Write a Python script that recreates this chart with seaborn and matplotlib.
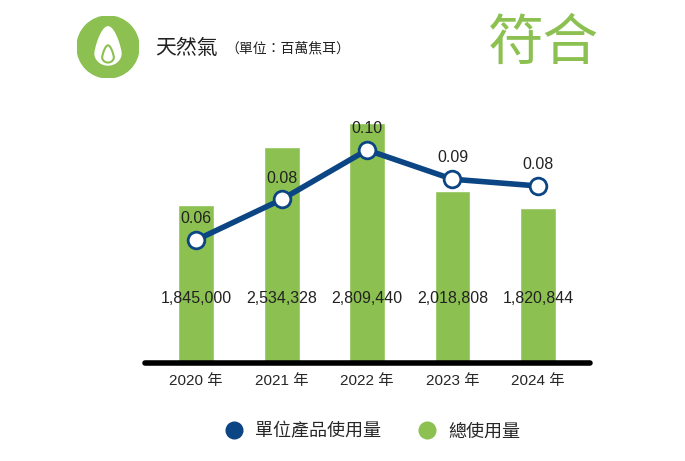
import matplotlib
matplotlib.use("Agg")
import matplotlib.pyplot as plt
import seaborn as sns
import pandas as pd
import numpy as np
from matplotlib.patches import Circle, Polygon
from matplotlib.lines import Line2D

years = ["2020 年", "2021 年", "2022 年", "2023 年", "2024 年"]
total_use = [1845000, 2534328, 2809440, 2018808, 1820844]
unit_use = [0.060, 0.078, 0.100, 0.087, 0.084]
unit_labels = ["0.06", "0.08", "0.10", "0.09", "0.08"]

sns.set_theme(style="white")
plt.rcParams['font.family'] = ['Liberation Sans', 'Noto Sans CJK TC', 'DejaVu Sans']

GREEN = "#8cc152"
BLUE = "#0c4584"

fig = plt.figure(figsize=(6.85, 4.61), dpi=100)
ax = fig.add_axes([145/685, 1-363/461, 445/685, 263/461])
df = pd.DataFrame({"year": years, "total": total_use})
sns.barplot(data=df, x="year", y="total", color=GREEN, width=0.42, saturation=1, ax=ax)
ax.set_xlim(-0.6, 4.61)
ax.set_ylim(0, 3080000)
for s in ["top", "right", "left"]:
    ax.spines[s].set_visible(False)
ax.spines["bottom"].set_color("black")
ax.spines["bottom"].set_linewidth(4)
ax.spines["bottom"].set_capstyle("round")
ax.set_yticks([])
ax.set_xlabel(""); ax.set_ylabel("")
ax.tick_params(axis="x", length=0, pad=8, labelsize=11)
for i, v in enumerate(total_use):
    ax.text(i, 760000, f"{v:,}", ha="center", va="center", fontsize=11.5, color="#222")

ax2 = ax.twinx()
ax2.set_ylim(0.00533, 0.1222)
ax2.plot(range(5), unit_use, color=BLUE, lw=4, marker="o", ms=12,
         mfc="white", mec=BLUE, mew=2, zorder=5)
ax2.set_axis_off()
for i, (v, l) in enumerate(zip(unit_use, unit_labels)):
    ax2.text(i, v + 0.0095, l, ha="center", va="center", fontsize=11.5, color="#222")

# icon
iax = fig.add_axes([77/685, 1-78/461, 62/685, 62/461])
iax.set_xlim(-1, 1); iax.set_ylim(-1, 1); iax.set_aspect("equal"); iax.set_axis_off()
iax.add_patch(Circle((0, 0), 1, color=GREEN))
t = np.linspace(0, 2*np.pi, 200)
fy = np.where(np.cos(t) < 0, -0.2 + 0.38*np.cos(t), -0.2 + 0.85*np.cos(t))
fx_outer = 0.42*np.sin(t) * (1 - 0.3*np.clip(np.cos(t), 0, 1))
iax.add_patch(Polygon(np.c_[fx_outer, fy], closed=True, color="white"))
iax.add_patch(Polygon(np.c_[0.45*fx_outer, -0.33 + 0.45*(fy+0.2)], closed=True,
                      fill=False, ec=GREEN, lw=1.5))

fig.text(155/685, 1-48/461, "天然氣", fontsize=15, color="#222", va="center")
fig.text(225/685, 1-48/461, "（單位：百萬焦耳）", fontsize=10, color="#222", va="center")
fig.text(543/685, 1-46/461, "符合", fontsize=40, color=GREEN, va="center", ha="center",
         fontweight="light")

handles = [Line2D([], [], marker="o", ls="", color=BLUE, ms=12),
           Line2D([], [], marker="o", ls="", color=GREEN, ms=12)]
fig.legend(handles, ["單位產品使用量", "總使用量"], loc="center",
           bbox_to_anchor=(368/685, 1-432/461), ncol=2, frameon=False,
           fontsize=13, handletextpad=0.2, columnspacing=1.5)

fig.savefig("out.png", dpi=100)
